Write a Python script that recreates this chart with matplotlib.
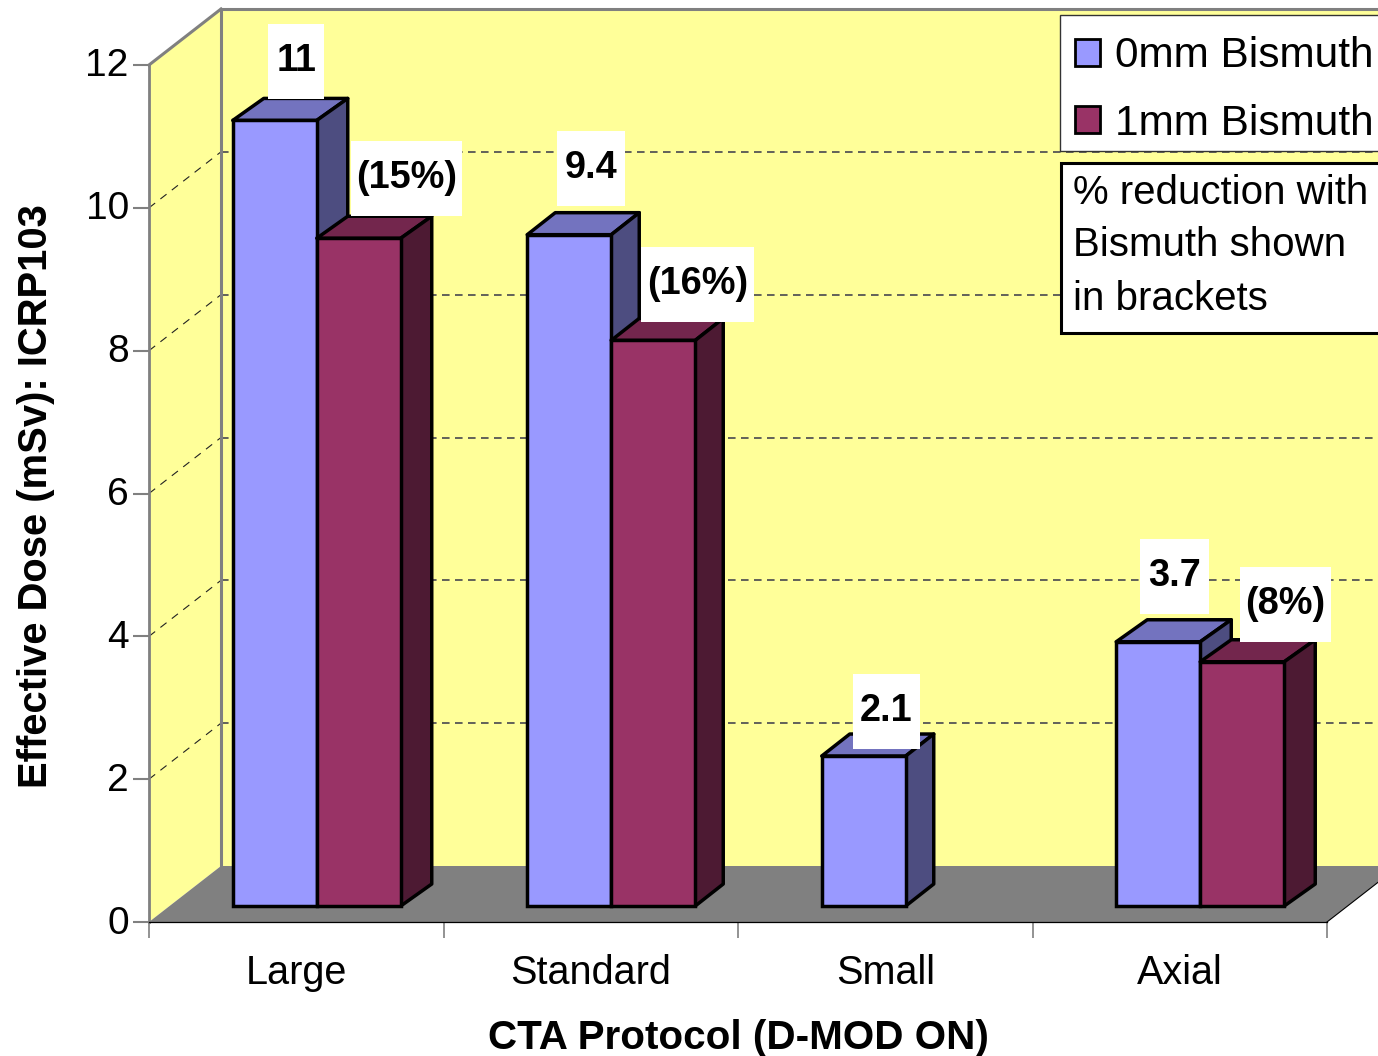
import matplotlib
matplotlib.use("Agg")
import matplotlib.pyplot as plt
from matplotlib.patches import Polygon, Rectangle, Patch
from matplotlib.transforms import Affine2D, IdentityTransform, ScaledTranslation

plt.rcParams['font.family'] = ['Liberation Sans', 'DejaVu Sans']

# --- data ---
protocols = ["Large", "Standard", "Small", "Axial"]
dose_0mm = [11, 9.4, 2.1, 3.7]
dose_1mm = [9.35, 7.92, None, 3.42]
reduction = ["(15%)", "(16%)", None, "(8%)"]
series_names = ["0mm Bismuth", "1mm Bismuth"]
y_ticks = [0, 2, 4, 6, 8, 10, 12]

# --- colours ---
WALL = '#FFFF99'
FLOOR = '#808080'
BLUE = ('#9999FF', '#7373BF', '#4D4D80')    # front, top, side
RED = ('#993366', '#73264D', '#4D1A33')

# --- layout, pixels ---
W, H = 1378, 1056
DEPTH = (72, 56)        # front plane to back wall
BAR_SHIFT = (20.5, 16)  # front plane to bar front
bar_depth_x = [31, 28, 28, 31]
BAR_DEPTH_Y = 22
BAR_W = 84 / 294.5      # in category units
BOX_H = 75
blue_box_w = [56, 68, 67, 69]
blue_box_gap = [21, 29, 7, 28]
blue_box_dx = [0, 0, 1, -5.5]
red_box_w = [111, 113, None, 91]
red_box_gap = [22, 18, None, 20]
red_box_dx = [48, 44, None, 43]

fig = plt.figure(figsize=(W / 100, H / 100), dpi=100, facecolor='white')
ax = fig.add_axes([149 / W, 1 - 922 / H, (1327 - 149) / W, (922 - 65) / H])
ax.set_xlim(0, 4)
ax.set_ylim(0, 12)
ax.patch.set_visible(False)


def px(x, y, dx=0, dy=0):
    p = ax.transData.transform((x, y))
    return p[0] + dx, p[1] + dy


def poly(points, z, fc='none', ec='none', lw=0):
    ax.add_patch(Polygon(points, closed=True, fc=fc, ec=ec, lw=lw, zorder=z, joinstyle='round',
                         transform=IdentityTransform(), clip_on=False))


def line(a, b, z, **kw):
    ax.plot([a[0], b[0]], [a[1], b[1]], transform=IdentityTransform(), clip_on=False, zorder=z, **kw)


dx, dy = DEPTH

# walls and floor
poly([px(0, 0), px(0, 0, dx, dy), px(0, 12, dx, dy), px(0, 12)], 1, fc=WALL)
poly([px(0, 0, dx, dy), px(4, 0, dx, dy), px(4, 12, dx, dy), px(0, 12, dx, dy)], 1, fc=WALL)
poly([px(0, 0), px(4, 0), px(4, 0, dx, dy), px(0, 0, dx, dy)], 2, fc=FLOOR)

# gridlines run along the left wall and across the back
for t in y_ticks[1:-1]:
    line(px(0, t), px(0, t, dx, dy), 2, color='#222222', lw=0.8, dashes=(7, 6))
    line(px(0, t, dx, dy), px(4, t, dx, dy), 2, color='#555555', lw=1.3, dashes=(4.2, 3))

line(px(0, 12), px(0, 12, dx, dy), 3, color='#808080', lw=2.2)
line(px(0, 12, dx, dy), px(4, 12, dx, dy), 3, color='#808080', lw=2.2)
line(px(0, 0, dx, dy), px(0, 12, dx, dy), 3, color='#808080', lw=2.2)
line(px(4, 0), px(4, 0, dx, dy), 3, color='black', lw=0.8)

# bars
bar_tf = ax.transData + Affine2D().translate(*BAR_SHIFT)
EDGE = 2.5


def draw_bar(left, value, colors, z, bx):
    front, top, side = colors
    ax.bar(left, value, BAR_W, align='edge', color=front, edgecolor='black', linewidth=EDGE,
           transform=bar_tf, clip_on=False, zorder=z + 0.2)
    by = BAR_DEPTH_Y
    sx, sy = BAR_SHIFT
    a = px(left, value, sx, sy)
    b = px(left + BAR_W, value, sx, sy)
    c = px(left + BAR_W, 0, sx, sy)
    poly([a, b, (b[0] + bx, b[1] + by), (a[0] + bx, a[1] + by)], z, fc=top, ec='black', lw=EDGE)
    poly([b, c, (c[0] + bx, c[1] + by), (b[0] + bx, b[1] + by)], z, fc=side, ec='black', lw=EDGE)


def value_box(cx, ybar, gap, width, text):
    bottom = ybar + gap
    ax.add_patch(Rectangle((cx - width / 2, bottom), width, BOX_H, fc='white', ec='none', zorder=20,
                           transform=IdentityTransform(), clip_on=False))
    ax.text(cx, bottom + 28, text, ha='center', va='baseline', fontsize=27.3, fontweight='bold',
            color='black', zorder=21, transform=IdentityTransform(), clip_on=False)


for i, name in enumerate(protocols):
    center = i + 0.5
    draw_bar(center - BAR_W, dose_0mm[i], BLUE, 5 + i, bar_depth_x[i])
    if dose_1mm[i] is not None:
        draw_bar(center, dose_1mm[i], RED, 5.5 + i, bar_depth_x[i])

for i, name in enumerate(protocols):
    center = i + 0.5
    value_box(px(center, 0)[0] + blue_box_dx[i], px(center, dose_0mm[i], 0, BAR_SHIFT[1])[1],
              blue_box_gap[i], blue_box_w[i], f"{dose_0mm[i]:g}")
    if dose_1mm[i] is not None:
        x_mid = px(center + BAR_W / 2, 0, BAR_SHIFT[0])[0] + red_box_dx[i]
        value_box(x_mid, px(center, dose_1mm[i], 0, BAR_SHIFT[1])[1], red_box_gap[i],
                  red_box_w[i], reduction[i])

# axes
for s in ('top', 'right'):
    ax.spines[s].set_visible(False)
ax.spines['left'].set_color('#808080')
ax.spines['left'].set_linewidth(2.0)
ax.spines['bottom'].set_color('black')
ax.spines['bottom'].set_linewidth(0.9)
ax.set_yticks(y_ticks)
ax.set_xticks(range(5))
ax.set_xticklabels([])
ax.set_xticks([i + 0.5 for i in range(4)], minor=True)
ax.set_xticklabels(protocols, minor=True)
ax.tick_params(axis='y', length=11.5, width=1.5, color='#808080', labelsize=28, pad=3)
ax.tick_params(axis='x', which='major', length=11.5, width=1.2, color='#808080')
ax.tick_params(axis='x', which='minor', length=0, labelsize=28.5, pad=23)

# tick numbers sit a little above their ticks
nudge = ScaledTranslation(0, 2.5 / 100, fig.dpi_scale_trans)
for label in ax.get_yticklabels():
    label.set_transform(label.get_transform() + nudge)

ax.set_ylabel("Effective Dose (mSv): ICRP103", fontsize=28.8, fontweight='bold')
ax.yaxis.set_label_coords(36, H - 496, transform=IdentityTransform())
ax.set_xlabel("CTA Protocol (D-MOD ON)", fontsize=29.1, fontweight='bold')
ax.xaxis.set_label_coords(738, H - 1038, transform=IdentityTransform())
ax.xaxis.label.set_verticalalignment('center')
ax.yaxis.label.set_verticalalignment('center')

# legend, runs off the right edge
ax.add_patch(Rectangle((1060, H - 151), 340, 136, fc='white', ec='#333333', lw=1.0, zorder=29,
                       transform=IdentityTransform(), clip_on=False))
handles = [Patch(fc=BLUE[0], ec='black', lw=2.0), Patch(fc=RED[0], ec='black', lw=2.0)]
leg = ax.legend(handles, series_names, loc='upper left', bbox_to_anchor=(1056, H - 17),
                bbox_transform=IdentityTransform(), borderaxespad=0, frameon=False,
                fontsize=30.5, handlelength=0.6, handleheight=0.6,
                handletextpad=0.35, labelspacing=0.65, borderpad=0.45)
leg.set_zorder(30)

# note under the legend
ax.add_patch(Rectangle((1061, H - 333), 340, 170, fc='white', ec='black', lw=2.2, zorder=30,
                       transform=IdentityTransform(), clip_on=False))
ax.text(1073, H - 173.5, "% reduction with\nBismuth shown\nin brackets", ha='left', va='top',
        fontsize=29, linespacing=1.5, zorder=31, transform=IdentityTransform(), clip_on=False)

fig.savefig("out.png", dpi=100, facecolor='white')
